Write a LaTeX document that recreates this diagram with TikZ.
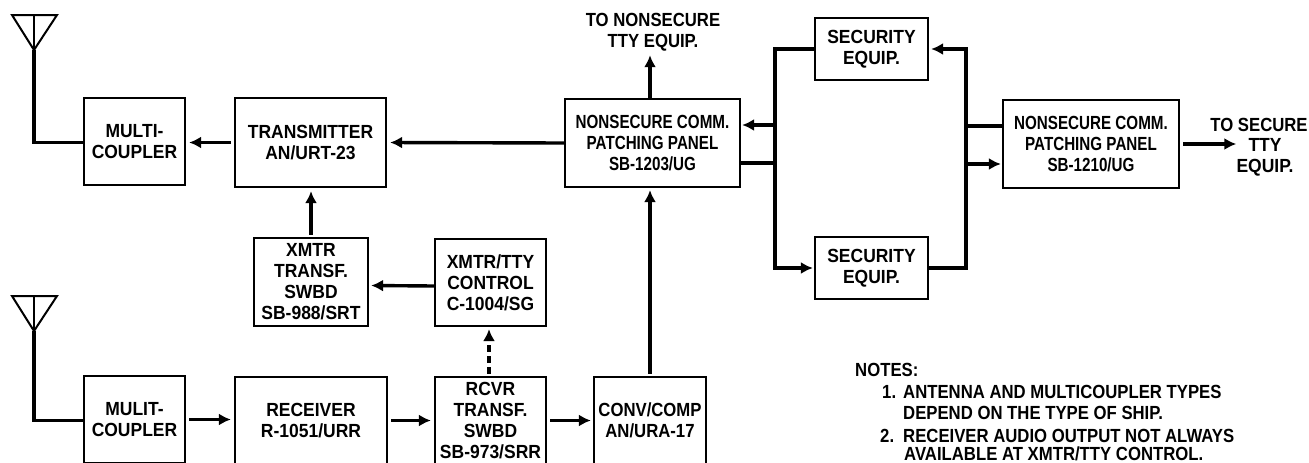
\documentclass[tikz,border=0pt]{standalone}
\usepackage{fontspec}
\setmainfont[FakeStretch=0.92]{Liberation Sans}
\newfontfamily\panelfont[FakeStretch=0.80]{Liberation Sans}
\newfontfamily\notefont[FakeStretch=0.88]{Liberation Sans}
\usepackage{tikz}
\usetikzlibrary{arrows.meta,positioning,calc}
\tikzset{
  unitbox/.style={draw,line width=2.2pt,inner sep=0pt,align=center,font=\labelfont},
  plain/.style={inner sep=0pt,align=center,font=\labelfont},
  link/.style={line width=3.4pt,line join=miter},
  flow/.style={link,-{Latex[length=12pt,width=12pt]}},
  aerial/.style={line width=2pt,line join=miter}
}
\newcommand{\labelfont}{\bfseries\fontsize{19}{21}\selectfont}
\begin{document}
\begin{tikzpicture}[x=1pt,y=-1pt]
  \useasboundingbox (0,0) rectangle (1309,463);
  % top row
  \node[unitbox,minimum width=101pt,minimum height=87pt] (multi) at (134.5,141.5) {MULTI-\\COUPLER};
  \node[unitbox,minimum width=151pt,minimum height=89pt] (xmtr) at (310.5,142.5) {TRANSMITTER\\AN/URT-23};
  \node[unitbox,minimum width=175pt,minimum height=88pt] (panela) at (652.5,143) {\panelfont NONSECURE COMM.\\\panelfont PATCHING PANEL\\\panelfont SB-1203/UG};
  \node[unitbox,minimum width=176pt,minimum height=88pt] (panelb) at (1091,144) {\panelfont NONSECURE COMM.\\\panelfont PATCHING PANEL\\\panelfont SB-1210/UG};
  \node[unitbox,minimum width=113pt,minimum height=62pt] (seca) at (871.5,49) {SECURITY\\EQUIP.};
  \node[unitbox,minimum width=113pt,minimum height=62pt] (secb) at (871.5,268) {SECURITY\\EQUIP.};
  % middle row
  \node[unitbox,minimum width=114pt,minimum height=88pt] (xsw) at (311,282) {XMTR\\TRANSF.\\SWBD\\SB-988/SRT};
  \node[unitbox,minimum width=111pt,minimum height=87pt] (ctrl) at (490.5,282.5) {XMTR/TTY\\CONTROL\\C-1004/SG};
  % bottom row
  \node[unitbox,minimum width=101pt,minimum height=87pt] (mulit) at (134.5,419.5) {MULIT-\\COUPLER};
  \node[unitbox,minimum width=152pt,minimum height=87pt] (rcvr) at (311,420.5) {RECEIVER\\R-1051/URR};
  \node[unitbox,minimum width=111pt,minimum height=87pt] (rsw) at (490.5,420.5) {RCVR\\TRANSF.\\SWBD\\SB-973/SRR};
  \node[unitbox,minimum width=112pt,minimum height=87pt] (conv) at (650,420.5) {\notefont CONV/COMP\\\notefont AN/URA-17};
  % outgoing labels
  \node[plain] (tonon) at (653,32) {\notefont TO NONSECURE\\\notefont TTY EQUIP.};
  \node[plain] (tosec) at (1259,125) {\notefont TO SECURE};
  \node[plain] (ttyeq) at (1265,157.5) {TTY\\EQUIP.};
  % antennas
  \foreach \n/\y in {multi/15,mulit/296}
  {
    \coordinate (\n tip) at (34,\y+35);
    \draw[aerial] (12,\y) -- (57,\y) -- (\n tip) -- cycle;
    \draw[aerial] (34,\y) -- (\n tip);
    \draw[link] (\n tip) |- ([yshift=-1pt]\n.west);
  }
  % signal paths
  \coordinate (busw) at (775,200);
  \coordinate (buse) at (966,200);
  \draw[flow,shorten <=3pt,shorten >=3pt] (xmtr.west) -- (multi.east |- xmtr.west);
  \draw[flow,shorten >=3pt] (panela.west) -- (xmtr.east);
  \draw[flow,shorten <=2pt,shorten >=3pt] (xsw.north) -- (xmtr.south -| xsw.north);
  \draw[flow,shorten >=2pt] ([yshift=-3.5pt]ctrl.west) -- ([yshift=-3.5pt]xsw.east);
  \draw[flow,dash pattern=on 7pt off 4pt,shorten <=2pt,shorten >=2pt] ([xshift=-1.5pt]rsw.north) -- ([xshift=-1.5pt]ctrl.south);
  \draw[flow,shorten <=3pt,shorten >=3pt] (mulit.east) -- (rcvr.west |- mulit.east);
  \draw[flow,shorten <=3pt,shorten >=3pt] (rcvr.east) -- (rsw.west);
  \draw[flow,shorten <=3pt,shorten >=2pt] (rsw.east) -- (conv.west);
  \draw[flow,shorten <=2pt,shorten >=2pt] (conv.north) -- (conv.north |- panela.south);
  \draw[flow] (conv.north |- panela.north) -- ([yshift=-4pt]conv.north |- tonon.south);
  \draw[flow,shorten >=1pt] (seca.west) -| (busw) |- ([yshift=18pt]panela.east);
  \draw[flow,shorten >=1pt] ([yshift=-20pt]panela.east) -| (busw) |- (secb.west);
  \draw[flow,shorten >=2pt] ([yshift=18pt]panelb.west) -| (buse) |- (seca.east);
  \draw[flow,shorten >=1pt] (secb.east) -| (buse) |- ([yshift=-20pt]panelb.west);
  \draw[flow,shorten <=3pt] (panelb.east) -- (panelb.east -| ttyeq.west);
  % notes
  \foreach \n/\x/\y/\t in {h/855/370/{NOTES:},a/882/392/{1.},b/903/392/{ANTENNA AND MULTICOUPLER TYPES},
    c/903/413/{DEPEND ON THE TYPE OF SHIP.},d/880/436/{2.},e/903/436/{RECEIVER AUDIO OUTPUT NOT ALWAYS},
    f/904/454/{AVAILABLE AT XMTR/TTY CONTROL.}}
    \node[plain,anchor=west] (note\n) at (\x,\y) {\notefont \t};
\end{tikzpicture}
\end{document}
